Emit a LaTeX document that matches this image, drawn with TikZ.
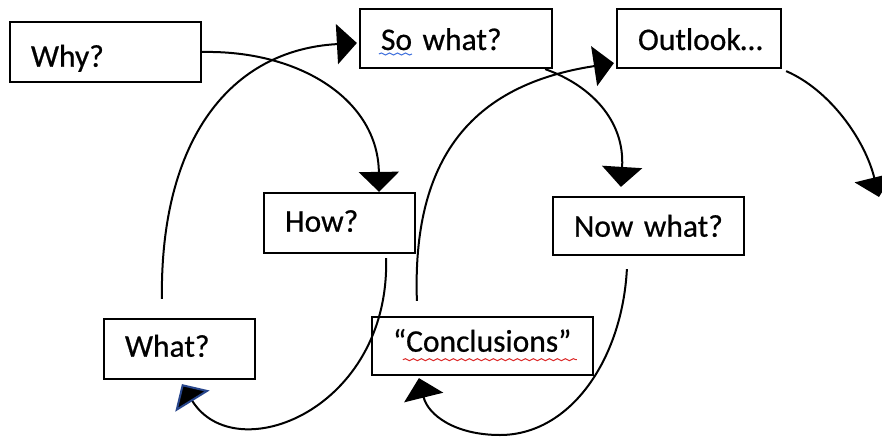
\documentclass[tikz,border=0pt]{standalone}
\usepackage{fontspec}
\setmainfont{Carlito}
\newfontfamily\boxfont{Carlito}[FakeBold=0.6]
\usetikzlibrary{arrows.meta,calc,decorations.pathmorphing}
\definecolor{tipedge}{RGB}{40,70,140}
\definecolor{sqblue}{RGB}{60,110,220}
\definecolor{sqred}{RGB}{220,40,40}
\begin{document}
\begin{tikzpicture}[x=1pt,y=-1pt,
  box/.style={draw, line width=2.2pt, inner xsep=21pt, inner ysep=0pt,
    align=left, font=\boxfont\fontsize{31.5}{36}\selectfont, text depth=4pt},
  flow/.style={line width=2pt, -{Triangle[length=20pt,width=40pt]}},
  squiggle/.style={line width=1pt, decorate,
    decoration={snake, amplitude=1pt, segment length=8pt}}]
\fill[white] (0,0) rectangle (882,436);
\useasboundingbox (0,0) rectangle (882,436);

% boxes
\node[box, text width=149pt, minimum height=60pt, text height=33.4pt] (why) at (105.5,52) {Why?};
\node[box, text width=150pt, minimum height=59pt, text height=27pt] (sowhat) at (456,38.5) {So what?};
\node[box, text width=122pt, minimum height=59pt, text height=27pt] (outlook) at (699,38.5) {Outlook…};
\node[box, text width=109pt, minimum height=60pt, text height=21.4pt] (how) at (339.5,223) {How?};
\node[box, text width=149pt, minimum height=58pt, text height=25.4pt] (nowwhat) at (648.5,226) {Now what?};
\node[box, text width=109pt, minimum height=60pt, text height=19.4pt] (what) at (179.5,349) {What?};
\node[box, text width=179pt, minimum height=58pt, text height=15.4pt] (concl) at (482.5,346) {“Conclusions”};

% spell-check squiggles
\draw[squiggle, sqblue] ($(sowhat.base west)+(20,4)$) -- ($(sowhat.base west)+(53,4)$);
\draw[squiggle, sqred] ($(concl.base west)+(32,8)$) -- ($(concl.base west)+(206,8)$);

% connectors
\draw[flow] (why.east) .. controls (300,50) and (378,100) .. ($(how.north east)+(-37,0)$);
\draw[flow] ($(what.north west)+(59,-19)$) .. controls (160,140) and (230,50) .. ($(sowhat.west)+(-2,4.5)$);
\draw[line width=2pt, -{Triangle[length=20pt,width=40pt,color=tipedge,fill=black]}]
  ($(how.south east)+(-30,4)$) .. controls (390,410) and (235,470) .. ($(what.south west)+(79,4)$);
\draw[flow] ($(nowwhat.south west)+(75,13)$) .. controls (622,360) and (570,435) .. (500,435)
  .. controls (455,435) and (428,415) .. ($(concl.south west)+(48,2)$);
\draw[flow] ($(concl.north west)+(46,-15)$) .. controls (412,160) and (470,85) .. ($(outlook.south west)+(-2,-6)$);
\draw[flow] ($(sowhat.south east)+(-8,0)$) .. controls (590,85) and (625,120) .. ($(nowwhat.north west)+(69,-9)$);
\coordinate (off) at (879,197);
\draw[flow] ($(outlook.south east)+(4,2)$) .. controls (830,90) and (865,140) .. (off);
\end{tikzpicture}
\end{document}
